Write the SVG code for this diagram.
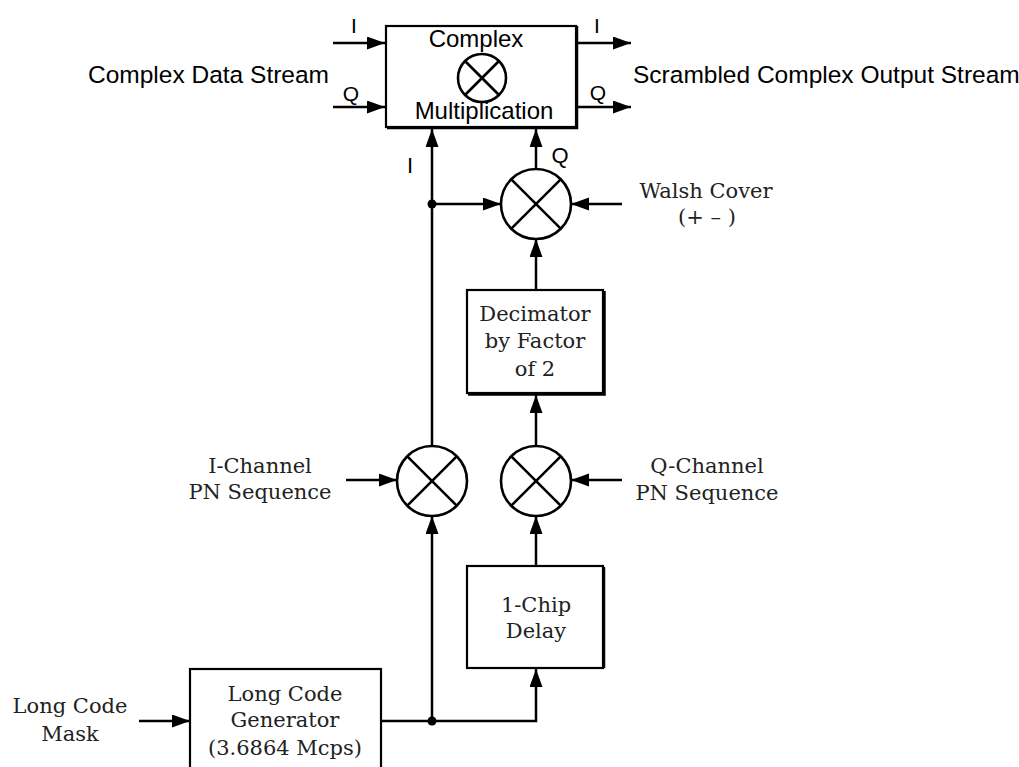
<svg xmlns="http://www.w3.org/2000/svg" width="1019" height="767" viewBox="0 0 1019 767">
<defs>
<style>
.ln{stroke:#000;stroke-width:2.5;fill:none}
.box{stroke:#000;stroke-width:2.2;fill:#fff}
.sh{stroke:#000;stroke-width:2.5;fill:none}
.mul{stroke:#000;stroke-width:2.6;fill:#fff}
.x{stroke:#000;stroke-width:2.6}
.sans{font-family:"Liberation Sans",Arial,sans-serif;fill:#000}
.serif{font-family:"DejaVu Serif","Liberation Serif",serif;font-size:21px;fill:#222;text-anchor:middle}
</style>
<marker id="ah" markerUnits="userSpaceOnUse" markerWidth="18" markerHeight="14" refX="18" refY="6.5" orient="auto">
<path d="M0,0 L18,6.5 L0,13 z" fill="#000"/>
</marker>
</defs>
<rect width="1019" height="767" fill="#fff"/>

<g id="connectors">
<line class="ln" x1="333" y1="43" x2="385" y2="43" marker-end="url(#ah)"/>
<line class="ln" x1="333" y1="107" x2="385" y2="107" marker-end="url(#ah)"/>
<line class="ln" x1="578" y1="43" x2="631" y2="43" marker-end="url(#ah)"/>
<line class="ln" x1="578" y1="107" x2="631" y2="107" marker-end="url(#ah)"/>
<line class="ln" x1="432" y1="446" x2="432" y2="129" marker-end="url(#ah)"/>
<line class="ln" x1="536" y1="169" x2="536" y2="129" marker-end="url(#ah)"/>
<line class="ln" x1="432" y1="204" x2="501" y2="204" marker-end="url(#ah)"/>
<line class="ln" x1="622" y1="204" x2="571" y2="204" marker-end="url(#ah)"/>
<line class="ln" x1="536" y1="290" x2="536" y2="239" marker-end="url(#ah)"/>
<line class="ln" x1="536" y1="446" x2="536" y2="395" marker-end="url(#ah)"/>
<line class="ln" x1="346" y1="480" x2="397" y2="480" marker-end="url(#ah)"/>
<line class="ln" x1="622" y1="480" x2="571" y2="480" marker-end="url(#ah)"/>
<line class="ln" x1="536" y1="566" x2="536" y2="516" marker-end="url(#ah)"/>
<line class="ln" x1="432" y1="721" x2="432" y2="516" marker-end="url(#ah)"/>
<line class="ln" x1="139" y1="721" x2="190" y2="721" marker-end="url(#ah)"/>
<polyline class="ln" points="381,721 536,721 536,669" marker-end="url(#ah)"/>
<circle cx="432" cy="204" r="4.5" fill="#000"/>
<circle cx="432" cy="721" r="4.5" fill="#000"/>
</g>

<g id="complex-mult">
<rect class="box" x="386" y="26" width="190" height="101"/>
<polyline class="sh" points="387,128 577,128 577,26"/>
<circle class="mul" cx="482" cy="78" r="24"/>
<line class="x" x1="465" y1="61" x2="499" y2="95"/>
<line class="x" x1="499" y1="61" x2="465" y2="95"/>
<text class="sans" x="476" y="47" font-size="24" text-anchor="middle">Complex</text>
<text class="sans" x="484" y="119" font-size="24" text-anchor="middle">Multiplication</text>
</g>

<g id="labels-top">
<text class="sans" x="88" y="83" font-size="24.5">Complex Data Stream</text>
<text class="sans" x="633" y="83" font-size="24.5">Scrambled Complex Output Stream</text>
<text class="sans" x="354" y="33" font-size="21" text-anchor="middle">I</text>
<text class="sans" x="351" y="101" font-size="21" text-anchor="middle">Q</text>
<text class="sans" x="597" y="33" font-size="21" text-anchor="middle">I</text>
<text class="sans" x="598" y="100" font-size="21" text-anchor="middle">Q</text>
<text class="sans" x="410" y="173" font-size="22" text-anchor="middle">I</text>
<text class="sans" x="560" y="163" font-size="22" text-anchor="middle">Q</text>
</g>

<g id="walsh-mult">
<circle class="mul" cx="536" cy="204" r="35"/>
<line class="x" x1="511.3" y1="179.3" x2="560.7" y2="228.7"/>
<line class="x" x1="560.7" y1="179.3" x2="511.3" y2="228.7"/>
</g>
<g id="walsh-label">
<text class="serif" x="706" y="198">Walsh Cover</text>
<text class="serif" x="707" y="224">(+ – )</text>
</g>

<g id="decimator">
<rect class="box" x="467" y="290" width="136" height="103"/>
<polyline class="sh" points="468,394.5 604.5,394.5 604.5,291"/>
<text class="serif" x="535" y="321">Decimator</text>
<text class="serif" x="535" y="348">by Factor</text>
<text class="serif" x="535" y="376">of 2</text>
</g>

<g id="i-mult">
<circle class="mul" cx="432" cy="481" r="35"/>
<line class="x" x1="407.3" y1="456.3" x2="456.7" y2="505.7"/>
<line class="x" x1="456.7" y1="456.3" x2="407.3" y2="505.7"/>
</g>
<g id="i-label">
<text class="serif" x="260" y="473">I-Channel</text>
<text class="serif" x="260" y="499">PN Sequence</text>
</g>

<g id="q-mult">
<circle class="mul" cx="536" cy="481" r="35"/>
<line class="x" x1="511.3" y1="456.3" x2="560.7" y2="505.7"/>
<line class="x" x1="560.7" y1="456.3" x2="511.3" y2="505.7"/>
</g>
<g id="q-label">
<text class="serif" x="707" y="473">Q-Channel</text>
<text class="serif" x="707" y="500">PN Sequence</text>
</g>

<g id="delay">
<rect class="box" x="467" y="566" width="136" height="102"/>
<line class="sh" x1="604" y1="567" x2="604" y2="668"/>
<text class="serif" x="536" y="612">1-Chip</text>
<text class="serif" x="536" y="638">Delay</text>
</g>

<g id="generator">
<rect class="box" x="190" y="669" width="191" height="110"/>
<text class="serif" x="285" y="701">Long Code</text>
<text class="serif" x="285" y="727">Generator</text>
<text class="serif" x="285" y="755">(3.6864 Mcps)</text>
</g>

<g id="mask-label">
<text class="serif" x="70" y="713">Long Code</text>
<text class="serif" x="70" y="741">Mask</text>
</g>
</svg>
